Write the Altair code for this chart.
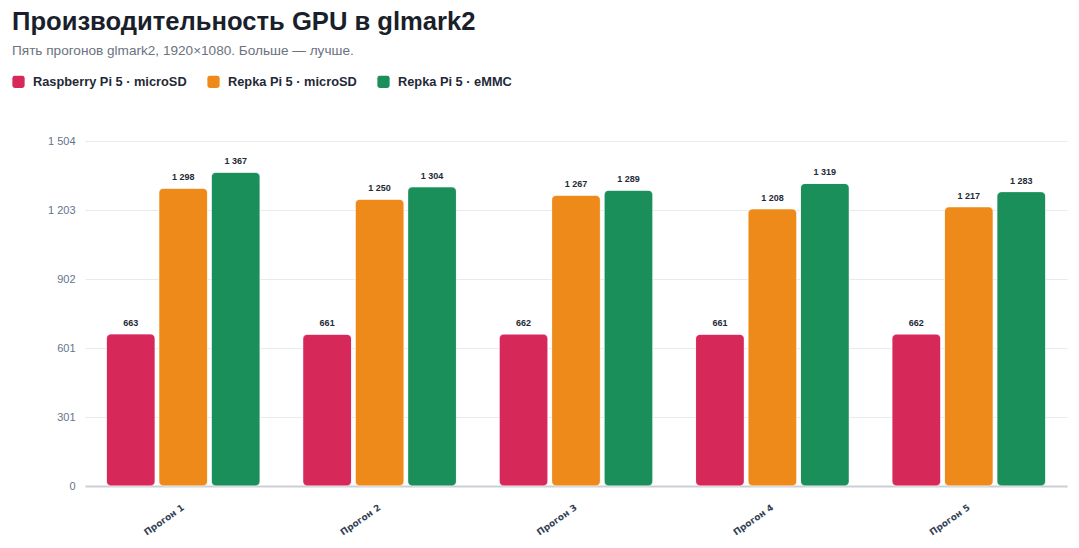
import altair as alt
import pandas as pd

runs = ["Прогон 1", "Прогон 2", "Прогон 3", "Прогон 4", "Прогон 5"]
series = ["Raspberry Pi 5 · microSD", "Repka Pi 5 · microSD", "Repka Pi 5 · eMMC"]
rpi_sd = [663, 661, 662, 661, 662]
repka_sd = [1298, 1250, 1267, 1208, 1217]
repka_emmc = [1367, 1304, 1289, 1319, 1283]
y_max = 1503.7
y_ticks = [0, 300.74, 601.48, 902.22, 1202.96, 1503.7]
colors = ["#D7285A", "#EE8A1A", "#1A8F5A"]

rows = []
for vals, s in zip([rpi_sd, repka_sd, repka_emmc], series):
    for r, v in zip(runs, vals):
        rows.append({"run": r, "series": s, "value": v})
df = pd.DataFrame(rows)

FONT = "Liberation Sans"
rounded = "M-0.6,-1H0.6Q1,-1,1,-0.6V0.6Q1,1,0.6,1H-0.6Q-1,1,-1,0.6V-0.6Q-1,-1,-0.6,-1Z"

x = alt.X("run:N", sort=runs, title=None,
          scale=alt.Scale(paddingInner=0.2174, paddingOuter=0.1087),
          axis=alt.Axis(labelAngle=-35, labelAlign="right", labelBaseline="middle",
                        labelFont="DejaVu Sans", labelFontSize=9, labelFontWeight="bold",
                        labelColor="#334155", labelPadding=20, ticks=False,
                        domainColor="#cbd0d6", domainWidth=2, grid=False))
xo = alt.XOffset("series:N", sort=series,
                 scale=alt.Scale(paddingInner=0.0705, paddingOuter=0))
y = alt.Y("value:Q", title=None,
          scale=alt.Scale(domain=[0, y_max], nice=False),
          axis=alt.Axis(values=y_ticks, labelExpr="replace(format(datum.value, ',.0f'), ',', ' ')",
                        labelFont=FONT, labelFontSize=11, labelColor="#64748b",
                        labelPadding=10, ticks=False, domain=False,
                        gridColor="#e8eaee", gridWidth=1))
color = alt.Color("series:N", sort=series,
                  scale=alt.Scale(domain=series, range=colors),
                  legend=alt.Legend(title=None, orient="none", direction="horizontal",
                                    legendX=-73, legendY=-66,
                                    symbolType=rounded, symbolSize=150, symbolStrokeWidth=0,
                                    symbolOpacity=1,
                                    labelFont=FONT, labelFontSize=12.8, labelFontWeight="bold",
                                    labelColor="#1f2937", labelOffset=8, columnPadding=20))

base = alt.Chart(df).encode(x=x, xOffset=xo)

bars = base.mark_bar(cornerRadius=5, stroke="white", strokeWidth=0.5).encode(y=y, color=color)

labels = base.transform_calculate(
    lbl="replace(format(datum.value, ',.0f'), ',', ' ')"
).mark_text(dy=-11, font=FONT, fontSize=9, fontWeight="bold", color="#1f2937").encode(
    y=alt.Y("value:Q", scale=alt.Scale(domain=[0, y_max], nice=False)),
    text="lbl:N")

chart = alt.layer(bars, labels).properties(
    width=982, height=345,
    background="white",
    autosize=alt.AutoSizeParams(type="none"),
    padding={"left": 77, "top": 133, "right": 4, "bottom": 52},
    title=alt.TitleParams(
        text="Производительность GPU в glmark2",
        subtitle="Пять прогонов glmark2, 1920×1080. Больше — лучше.",
        anchor="start", frame="group", dx=-73,
        font=FONT, fontSize=25.6, fontWeight="bold", color="#1a1f2b",
        subtitleFont=FONT, subtitleFontSize=13.6, subtitleColor="#6b7280",
        subtitlePadding=9, offset=17),
).configure_view(strokeOpacity=0, strokeWidth=0)

chart.save("out.html", embed_options={"renderer": "svg", "actions": False})
